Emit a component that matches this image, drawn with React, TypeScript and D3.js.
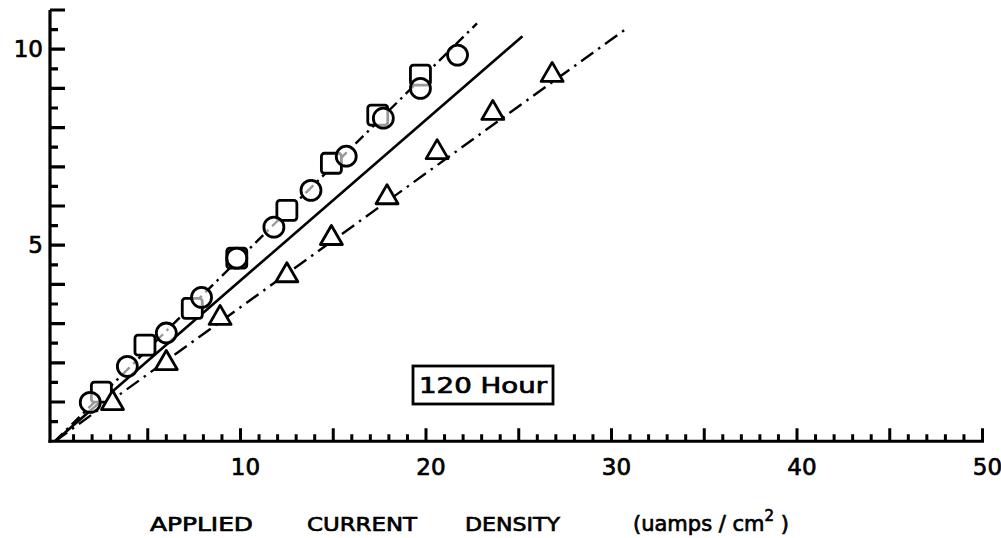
import React from "react";
import * as d3 from "d3";

// ---- data ----
const circleX = [1.9, 3.9, 6.0, 7.9, 9.8, 11.8, 13.8, 15.7, 17.7, 19.7, 21.7];
const circleY = [0.99, 1.91, 2.76, 3.67, 4.67, 5.46, 6.4, 7.27, 8.24, 9.0, 9.85];
const squareX = [2.5, 4.85, 7.4, 9.8, 12.5, 14.9, 17.4, 19.7];
const squareY = [1.25, 2.45, 3.39, 4.67, 5.89, 7.09, 8.32, 9.34];
const triangleX = [3.1, 6.0, 8.9, 12.5, 14.9, 17.9, 20.6, 23.6, 26.8];
const triangleY = [0.97, 1.99, 3.14, 4.23, 5.18, 6.22, 7.37, 8.37, 9.34];

const solidLine: [number, number][] = [[0, 0], [25.2, 10.33]];
const upperLine: [number, number][] = [[0, 0], [22.75, 10.66]];
const lowerLine: [number, number][] = [[0, 0], [30.9, 10.56]];

const xTickLabels = [10, 20, 30, 40, 50];
const yTickLabels = [5, 10];
const titleWords = ["APPLIED", "CURRENT", "DENSITY"];
const unitText = "(uamps / cm";
const boxLabel = "120 Hour";

// ---- layout ----
const W = 1001;
const H = 538;
const AXIS_X = 50;
const FONT = "'DejaVu Sans', 'Liberation Sans', sans-serif";

export default function App() {
  const x = d3.scaleLinear().domain([0, 50]).range([55, 982.5]);
  const y = d3.scaleLinear().domain([0, 11]).range([441.2, 10]);
  const line = d3
    .line<[number, number]>()
    .x((d) => x(d[0]))
    .y((d) => y(d[1]));

  const y0 = y(0);
  const xTickVals = d3.range(1, 51);
  const yTickVals = d3.range(1, 23).map((k) => k / 2);

  const yTickPath = yTickVals
    .map((v) => {
      const len = Number.isInteger(v) ? 15 : 8;
      return `M${AXIS_X},${y(v)}H${AXIS_X + len}`;
    })
    .join("");
  const xTickPath = xTickVals
    .map((v) => {
      const len = v % 5 === 0 ? 13 : 7;
      return `M${x(v)},${y0}V${y0 - len}`;
    })
    .join("");

  const tri = (cx: number, cy: number, s: number) => {
    const h = (s * Math.sqrt(3)) / 2;
    return `M${cx},${cy - (2 * h) / 3}L${cx + s / 2},${cy + h / 3}L${cx - s / 2},${cy + h / 3}Z`;
  };

  const wordPos = [
    { x: 150, len: 103 },
    { x: 307, len: 110 },
    { x: 465, len: 95 },
  ];
  const textStroke = { stroke: "#000", strokeWidth: 0.7 };

  return (
    <svg
      width={W}
      height={H}
      style={{ position: "absolute", left: 0, top: 0, background: "#fff" }}
      fontFamily={FONT}
    >
      <rect x={0} y={0} width={W} height={H} fill="#fff" />
      {/* axes */}
      <line x1={AXIS_X} y1={y(11)} x2={AXIS_X} y2={y0 + 1.5} stroke="#000" strokeWidth={3.2} />
      <line x1={AXIS_X - 1.5} y1={y0} x2={x(50) + 1.5} y2={y0} stroke="#000" strokeWidth={3} />
      {/* ticks */}
      <path d={yTickPath} fill="none" stroke="#000" strokeWidth={3.2} />
      <path d={xTickPath} fill="none" stroke="#000" strokeWidth={3} />
      {/* tick labels */}
      {yTickLabels.map((v) => (
        <text key={"yl" + v} x={43} y={y(v) + 8} textAnchor="end" fontSize={23} fill="#000" {...textStroke}>
          {v}
        </text>
      ))}
      {xTickLabels.map((v) => (
        <text key={"xl" + v} x={x(v) + 5} y={475} textAnchor="middle" fontSize={23} fill="#000" {...textStroke}>
          {v}
        </text>
      ))}
      {/* axis title */}
      {titleWords.map((w, i) => (
        <text
          key={w}
          x={wordPos[i].x}
          y={531}
          fontSize={20}
          textLength={wordPos[i].len}
          lengthAdjust="spacingAndGlyphs"
          fill="#000"
          {...textStroke}
        >
          {w}
        </text>
      ))}
      <text x={633} y={531} fontSize={21} fill="#000" {...textStroke}>
        {unitText}
        <tspan dy={-10} fontSize={15}>2</tspan>
        <tspan dy={10}>{" )"}</tspan>
      </text>
      {/* fitted lines */}
      <path d={line(solidLine) || ""} fill="none" stroke="#000" strokeWidth={2.6} />
      <path
        d={line(upperLine) || ""}
        fill="none"
        stroke="#000"
        strokeWidth={2.4}
        strokeDasharray="11,5,2.5,5"
      />
      <path
        d={line(lowerLine) || ""}
        fill="none"
        stroke="#000"
        strokeWidth={2.4}
        strokeDasharray="15,6,2.5,6"
      />
      {/* markers */}
      {squareX.map((v, i) => (
        <rect
          key={"sq" + i}
          x={x(v) - 10}
          y={y(squareY[i]) - 10}
          width={20}
          height={20}
          rx={3}
          fill="#fff"
          stroke="#000"
          strokeWidth={2.8}
        />
      ))}
      {circleX.map((v, i) => (
        <circle
          key={"ci" + i}
          cx={x(v)}
          cy={y(circleY[i])}
          r={10}
          fill="#fff"
          fillOpacity={0.6}
          stroke="#000"
          strokeWidth={2.8}
        />
      ))}
      {triangleX.map((v, i) => (
        <path
          key={"tr" + i}
          d={tri(x(v), y(triangleY[i]), 22)}
          fill="#fff"
          stroke="#000"
          strokeWidth={2.8}
          strokeLinejoin="round"
        />
      ))}
      {/* label box */}
      <rect x={413} y={366} width={140} height={38} fill="#fff" stroke="#000" strokeWidth={2.8} />
      <text
        x={419}
        y={393}
        fontSize={21}
        textLength={128}
        lengthAdjust="spacingAndGlyphs"
        fill="#000"
        {...textStroke}
      >
        {boxLabel}
      </text>
    </svg>
  );
}
